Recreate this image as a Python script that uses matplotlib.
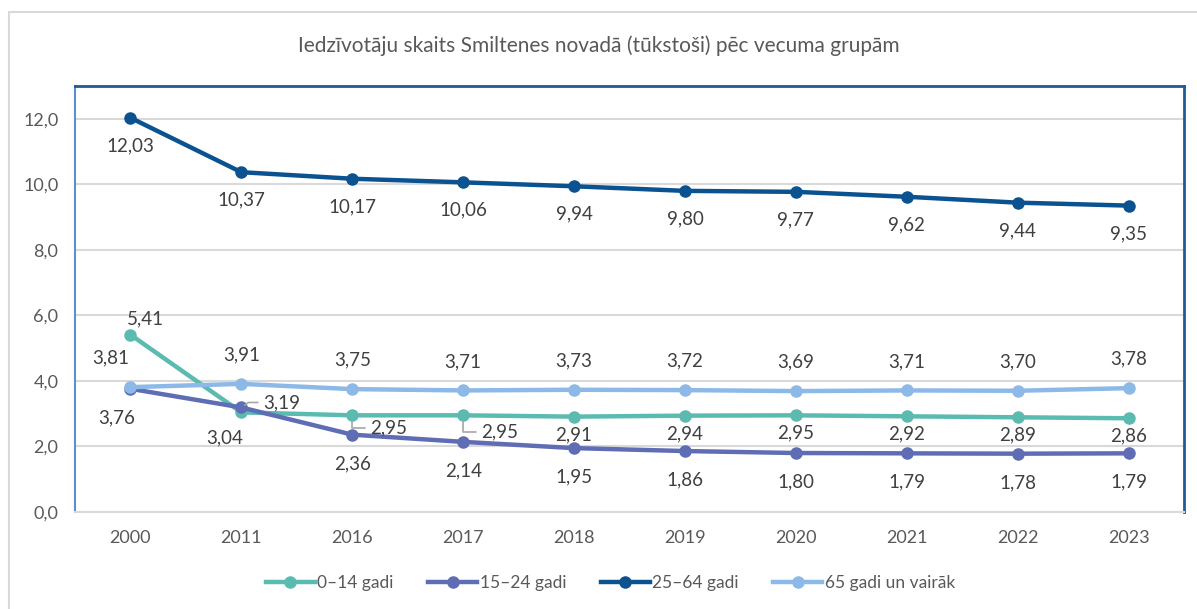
import matplotlib.pyplot as plt
from matplotlib.patches import Rectangle

years = ['2000', '2011', '2016', '2017', '2018', '2019', '2020', '2021', '2022', '2023']
gadi_0_14 = [5.41, 3.04, 2.95, 2.95, 2.91, 2.94, 2.95, 2.92, 2.89, 2.86]
gadi_15_24 = [3.76, 3.19, 2.36, 2.14, 1.95, 1.86, 1.80, 1.79, 1.78, 1.79]
gadi_25_64 = [12.03, 10.37, 10.17, 10.06, 9.94, 9.80, 9.77, 9.62, 9.44, 9.35]
gadi_65 = [3.81, 3.91, 3.75, 3.71, 3.73, 3.72, 3.69, 3.71, 3.70, 3.78]

plt.rcParams['font.family'] = ['Lato', 'DejaVu Sans']

fig = plt.figure(figsize=(11.97, 6.09), dpi=100)
ax = fig.add_axes([75 / 1197, 97 / 609, 1109 / 1197, 426 / 609])

# outer chart frame
fig.patches.append(Rectangle((9 / 1197, -0.1), 1.2, (609 - 12) / 609 + 0.1,
                             transform=fig.transFigure, fill=False,
                             edgecolor='#d9d9d9', linewidth=1.5))

x = list(range(len(years)))
series = [
    ('0–14 gadi', gadi_0_14, '#5bbbb0'),
    ('15–24 gadi', gadi_15_24, '#5f6db5'),
    ('25–64 gadi', gadi_25_64, '#0b5290'),
    ('65 gadi un vairāk', gadi_65, '#8cb9e8'),
]
order = [3, 0, 1, 2]
for i in order:
    name, vals, col = series[i]
    ax.plot(x, vals, color=col, linewidth=3.2, marker='o', markersize=8,
            label=name, zorder=3 + i)

def fmt(v):
    return f'{v:.2f}'.replace('.', ',')

lab_col = '#404040'
fs = 13.5

def lab(xi, v, dx, dy, **kw):
    ax.annotate(fmt(v), (xi, v), xytext=(dx, dy), textcoords='offset pixels',
                ha='center', va='center', fontsize=fs, color=lab_col, zorder=10, **kw)

for i, v in enumerate(gadi_25_64):
    lab(i, v, 0, -28)
for i, v in enumerate(gadi_65):
    lab(i, v, -20 if i == 0 else 0, 29)
for i, v in enumerate(gadi_15_24):
    if i == 1:
        continue
    lab(i, v, -14 if i == 0 else 0, -29)
for i, v in enumerate(gadi_0_14):
    if i in (2, 3):
        continue
    if i == 0:
        lab(i, v, 15, 16)
    elif i == 1:
        lab(i, v, -17, -25)
    else:
        lab(i, v, 0, -18)

# labels moved aside with leader lines
lead = dict(arrowstyle='-', color='#a6a6a6', linewidth=1.2, relpos=(0, 0.5),
            connectionstyle='angle,angleA=0,angleB=35,rad=0', shrinkA=2, shrinkB=3)
ax.annotate(fmt(gadi_15_24[1]), (1, gadi_15_24[1]), xytext=(22, 5),
            textcoords='offset pixels', ha='left', va='center', fontsize=fs,
            color=lab_col, arrowprops=lead, zorder=10)
lead2 = dict(arrowstyle='-', color='#a6a6a6', linewidth=1.2, relpos=(0, 0.5),
             connectionstyle='angle,angleA=0,angleB=90,rad=0', shrinkA=2, shrinkB=4)
for i, dy in ((2, -13), (3, -17)):
    ax.annotate(fmt(gadi_0_14[i]), (i, gadi_0_14[i]), xytext=(18, dy),
                textcoords='offset pixels', ha='left', va='center', fontsize=fs,
                color=lab_col, arrowprops=lead2, zorder=10)

ax.set_xlim(-0.5, len(years) - 0.5)
ax.set_ylim(0, 13)
ax.set_yticks([0, 2, 4, 6, 8, 10, 12])
ax.set_yticklabels([f'{t:.1f}'.replace('.', ',') for t in [0, 2, 4, 6, 8, 10, 12]])
ax.set_xticks(x)
ax.set_xticklabels(years)
ax.tick_params(axis='both', length=0, labelsize=13, colors='#595959')
ax.tick_params(axis='x', pad=13)
ax.tick_params(axis='y', pad=12)
ax.grid(axis='y', color='#d9d9d9', linewidth=1.5)
ax.set_axisbelow(True)

ax.spines['left'].set_color('#5b8fd0')
ax.spines['left'].set_linewidth(1.5)
ax.spines['top'].set_color('#1f5a96')
ax.spines['top'].set_linewidth(2)
ax.spines['right'].set_color('#1f5a96')
ax.spines['right'].set_linewidth(2)
ax.spines['bottom'].set_color('#d9d9d9')
ax.spines['bottom'].set_linewidth(1.5)

fig.text(0.5, (609 - 46) / 609, 'Iedzīvotāju skaits Smiltenes novadā (tūkstoši) pēc vecuma grupām',
         ha='center', va='center', fontsize=15, color='#595959')

handles, labels = ax.get_legend_handles_labels()
hmap = dict(zip(labels, handles))
names = [s[0] for s in series]
fig.legend([hmap[n] for n in names], names, loc='center', bbox_to_anchor=(0.51, (609 - 583) / 609),
           ncol=4, frameon=False, fontsize=12.5, labelcolor='#595959',
           handlelength=2.8, handletextpad=0.15, columnspacing=2.0)

fig.savefig('out.png', dpi=100)
